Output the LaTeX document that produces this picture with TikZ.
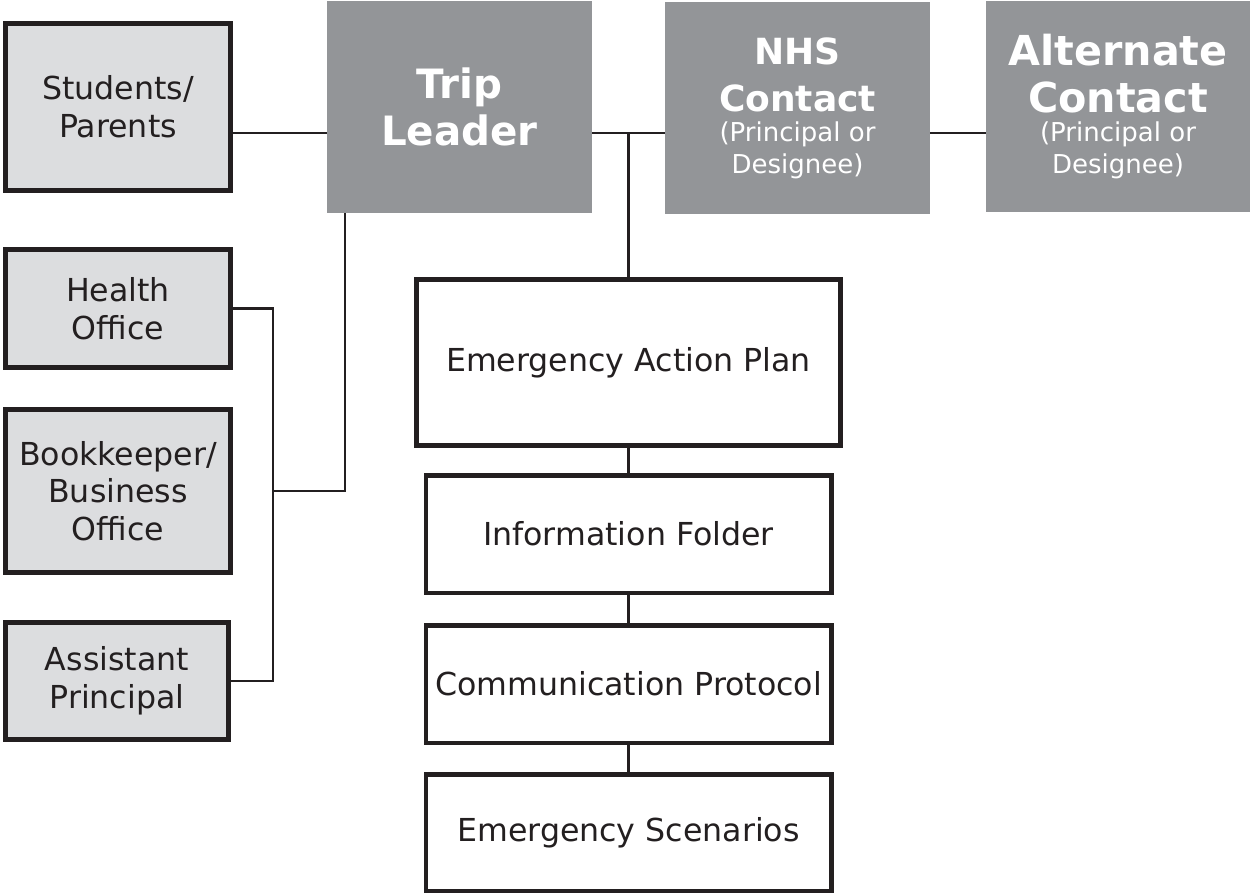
\documentclass[tikz,border=0pt]{standalone}
\usepackage{fontspec}
\setmainfont{DejaVu Sans}
\usepackage{tikz}
\usetikzlibrary{calc,positioning}
\definecolor{boxgray}{HTML}{DCDDDF}
\definecolor{hubgray}{HTML}{939598}
\definecolor{ink}{HTML}{231F20}
\newcommand{\subtxt}{\mdseries\fontsize{14.8}{17.5}\selectfont}
\tikzset{
    x=0.02cm,y=-0.02cm,node distance =0.5cm and 1cm,
    side/.style ={rectangle, draw=ink, line width=2.6pt, fill=boxgray, text=ink, align=center,
        font=\fontsize{18}{21.5}\selectfont, minimum width=4.51cm},
    hub/.style ={rectangle, fill=hubgray, text=white, align=center,
        font=\bfseries\fontsize{#1}{26.8}\selectfont, minimum width=5.3cm, minimum height=4.24cm},
    hub/.default=23,
    plan/.style ={rectangle, draw=ink, line width=2.6pt, fill=white, text=ink,
        font=\fontsize{18}{21.5}\selectfont, minimum width=8.11cm, minimum height=2.35cm},
    link/.style ={draw=ink, line width=1.2pt}
}
\begin{document}
\begin{tikzpicture}
	\useasboundingbox (0,0) rectangle (1250,894);
	% top row
	\node[side, minimum height=3.35cm] (stud) at (118,107) {Students/\\Parents};
	\node[hub] (trip) at (459.5,107) {Trip\\Leader};
	\node[hub=20.5] (nhs) at (797.5,108) {NHS\\Contact\\[-9.8pt]\subtxt (Principal or\\[-8.6pt]\subtxt Designee)};
	\node[hub=23.5, minimum width=5.28cm] (alt) at (1118,106.5) {Alternate\\Contact\\[-9.8pt]\subtxt (Principal or\\[-8.6pt]\subtxt Designee)};
	\coordinate (bus) at (0,133);

	% left column
	\node[side, minimum height=2.37cm] (health) at (118,308.5) {Health\\Office};
	\node[side, minimum height=3.27cm] (book) at (118,491) {Bookkeeper/\\Business\\Office};
	\node[side, minimum width=4.47cm, minimum height=2.35cm] (asst) at (117,681) {Assistant\\Principal};
	\coordinate (tie) at (273,491);

	% plan column
	\node[plan, minimum width=8.49cm, minimum height=3.33cm] (eap) at (628.5,362.5) {Emergency Action Plan};
	\node[plan] (info) [below = 0.5cm of eap] {Information Folder};
	\node[plan] (comm) [below = 0.56cm of info] {Communication Protocol};
	\node[plan, minimum height=2.33cm] (scen) [below = 0.54cm of comm] {Emergency Scenarios};

	\draw[link] (stud.east |- bus) -- (trip.west |- bus);
	\draw[link] (trip.east |- bus) -- (nhs.west |- bus);
	\draw[link] (nhs.east |- bus) -- (alt.west |- bus);
	\draw[link] (eap.north) -- (eap.north |- bus);
	\path[link] (eap) edge (info) (info) edge (comm) (comm) edge (scen);
	\draw[link] (health.east) -| (tie) |- (asst.east);
	\draw[link] (tie) -| ([xshift=0.36cm]trip.south west);
\end{tikzpicture}
\end{document}
